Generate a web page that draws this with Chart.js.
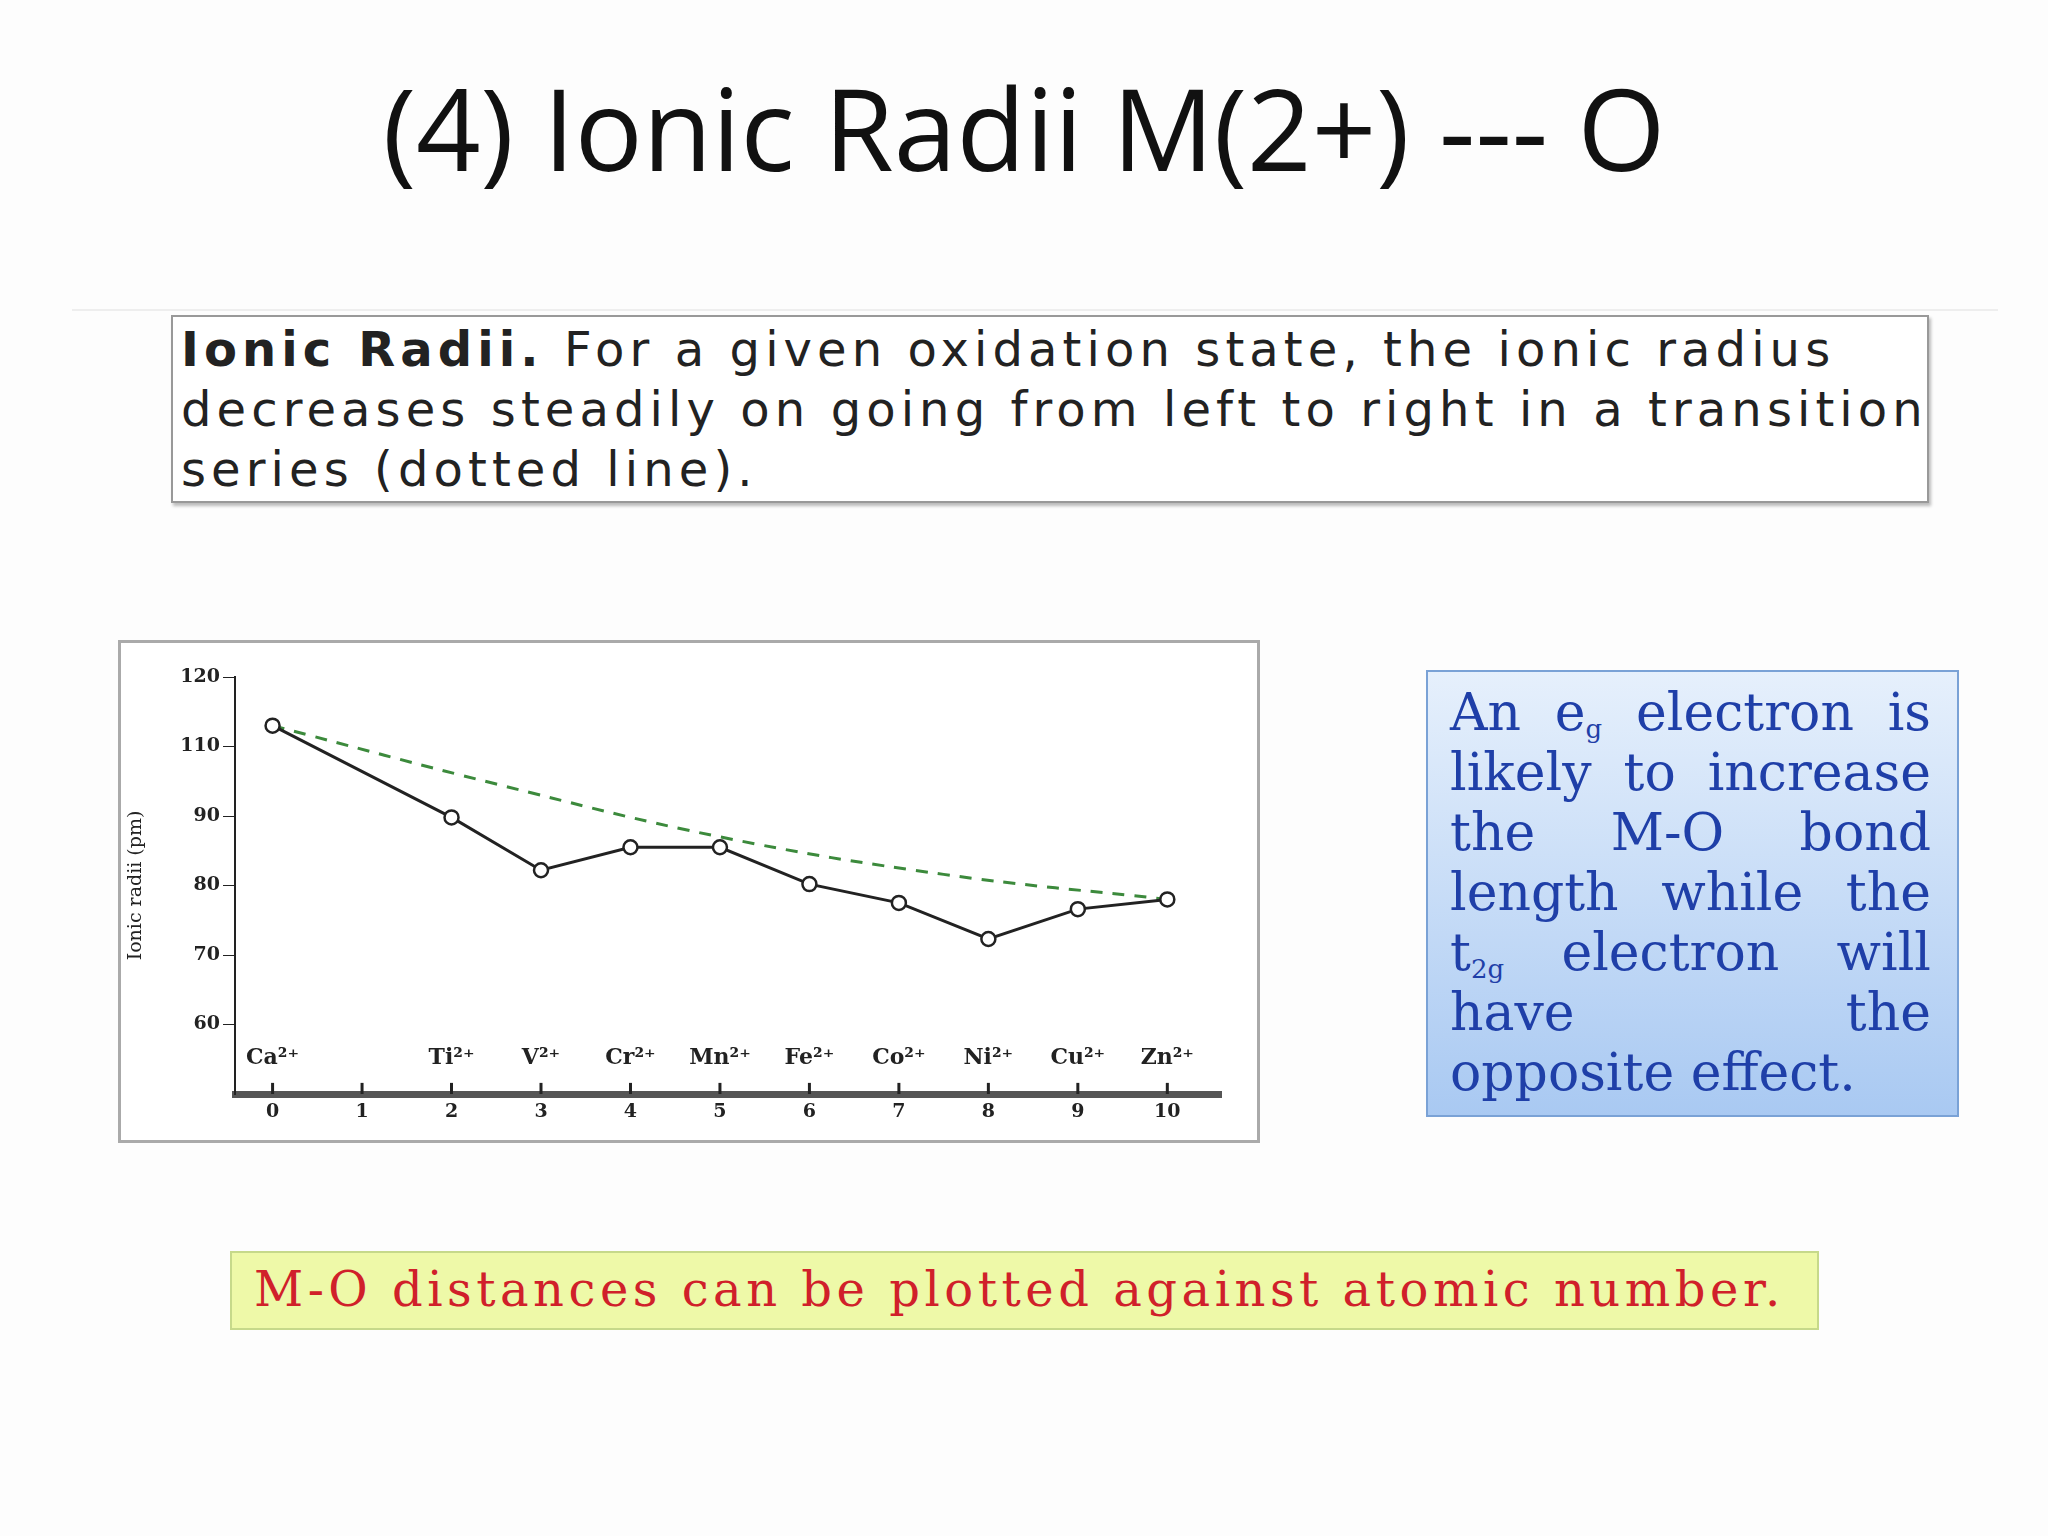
<!DOCTYPE html>
<html><head><meta charset="utf-8">
<script src="https://cdn.jsdelivr.net/npm/chart.js@4"></script>
<style>
body{margin:0;width:2048px;height:1536px;background:#fdfdfd;position:relative;overflow:hidden;font-family:"Liberation Sans",Arial,sans-serif}
.abs{position:absolute;box-sizing:border-box}
#title{left:0;width:2048px;top:50px;text-align:center;font-family:"Open Sans",sans-serif;font-size:113px;color:#111}
#rule{left:72px;top:309px;width:1926px;height:2px;background:#eee}
#tbox{left:171px;top:315px;width:1758px;height:188px;border:2px solid #999;box-shadow:2px 3px 3px #bbb;background:#fff;padding:2px 8px;font-family:"DejaVu Sans",sans-serif;font-size:48px;line-height:60px;letter-spacing:5.1px;color:#222;white-space:nowrap;overflow:hidden}
#cbox{left:118px;top:640px;width:1142px;height:503px;border:3px solid #aaa;background:#fff}
#blue{left:1426px;top:670px;width:533px;height:447px;border:2px solid #7aa2d6;background:linear-gradient(#e6f0fc,#a9c9f2);padding:10px 26px 0 22px;font-family:"DejaVu Serif",serif;font-size:52px;line-height:60px;color:#1f3fa8}
#blue div{text-align:justify;text-align-last:justify;white-space:nowrap}
#blue div.last{text-align-last:left}
#blue sub{font-size:26px;line-height:0;vertical-align:-8px}
#green{left:230px;top:1251px;width:1589px;height:79px;border:2px solid #c6d98a;background:#eef9a8;padding:8px 22px;font-family:"DejaVu Serif",serif;font-size:48px;color:#d0202a;letter-spacing:4.5px;white-space:nowrap}
</style></head><body>
<div class="abs" id="title">(4) Ionic Radii M(2+) --- O</div>
<div class="abs" id="rule"></div>
<div class="abs" id="tbox"><b>Ionic Radii.</b> For a given oxidation state, the ionic radius<br>decreases steadily on going from left to right in a transition<br>series (dotted line).</div>
<div class="abs" id="cbox"><canvas id="c" width="1136" height="497"></canvas></div>
<div class="abs" id="blue"><div>An e<sub>g</sub> electron is</div><div>likely to increase</div><div>the M-O bond</div><div>length while the</div><div>t<sub>2g</sub> electron will</div><div>have the</div><div class="last">opposite effect.</div></div>
<div class="abs" id="green">M-O distances can be plotted against atomic number.</div>
<script>
const ions=["Ca²⁺","","Ti²⁺","V²⁺","Cr²⁺","Mn²⁺","Fe²⁺","Co²⁺","Ni²⁺","Cu²⁺","Zn²⁺"];
const dElectrons=[0,2,3,4,5,6,7,8,9,10];
const radii=[103.0,89.8,82.2,85.5,85.5,80.2,77.5,72.3,76.6,78.0];
const trendX=[0,2.5,5,7.5,10];
const trendY=[103,94.6,87,81.6,78];
const yTickLabels={60:"60",70:"70",80:"80",90:"90",100:"110",110:"120"};
const ionPlugin={id:'ions',afterDatasetsDraw(ch){
  const {ctx,scales:{x,y}}=ch;ctx.save();
  ctx.font='bold 22px "DejaVu Serif",serif';ctx.fillStyle='#222';ctx.textAlign='center';ctx.textBaseline='middle';
  ions.forEach((t,i)=>{if(t)ctx.fillText(t,x.getPixelForValue(i),y.getPixelForValue(55.2));});
  ctx.strokeStyle='#222';ctx.lineWidth=3;
  for(let i=0;i<=10;i++){const px=x.getPixelForValue(i);ctx.beginPath();ctx.moveTo(px,y.getPixelForValue(50));ctx.lineTo(px,y.getPixelForValue(51.6));ctx.stroke();}
  ctx.restore();}};
new Chart(document.getElementById('c'),{
  type:'scatter',
  data:{datasets:[
    {data:dElectrons.map((v,i)=>({x:v,y:radii[i]})),showLine:true,borderColor:'#222',borderWidth:3,pointRadius:7,pointBorderWidth:2.5,pointBackgroundColor:'#fff',pointBorderColor:'#222'},
    {data:trendX.map((v,i)=>({x:v,y:trendY[i]})),showLine:true,borderColor:'#3c8a3c',borderWidth:3,borderDash:[12,10],pointRadius:0,tension:0.4}
  ]},
  plugins:[ionPlugin],
  options:{responsive:false,animation:false,
    layout:{padding:{top:34,right:36,left:0,bottom:0}},
    plugins:{legend:{display:false},tooltip:{enabled:false}},
    scales:{
      x:{type:'linear',min:-0.42,max:10.6,afterFit:s=>{s.height=46;},
        border:{color:'#555',width:7},grid:{drawOnChartArea:false,tickLength:4,color:'#555'},
        afterBuildTicks:s=>{s.ticks=[0,1,2,3,4,5,6,7,8,9,10].map(v=>({value:v}));},
        ticks:{font:{family:'"DejaVu Serif",serif',size:19,weight:'bold'},color:'#222',callback:v=>String(v)}},
      y:{min:50,max:110,afterFit:s=>{s.width=114;},
        border:{color:'#222',width:2},grid:{drawOnChartArea:false,tickLength:12,color:'#222'},
        afterBuildTicks:s=>{s.ticks=[60,70,80,90,100,110].map(v=>({value:v}));},
        ticks:{font:{family:'"DejaVu Serif",serif',size:19,weight:'bold'},color:'#222',callback:v=>yTickLabels[v]},
        title:{display:true,text:'Ionic radii (pm)',font:{family:'"DejaVu Serif",serif',size:19},color:'#222'}}
    }}
});
</script>
</body></html>
